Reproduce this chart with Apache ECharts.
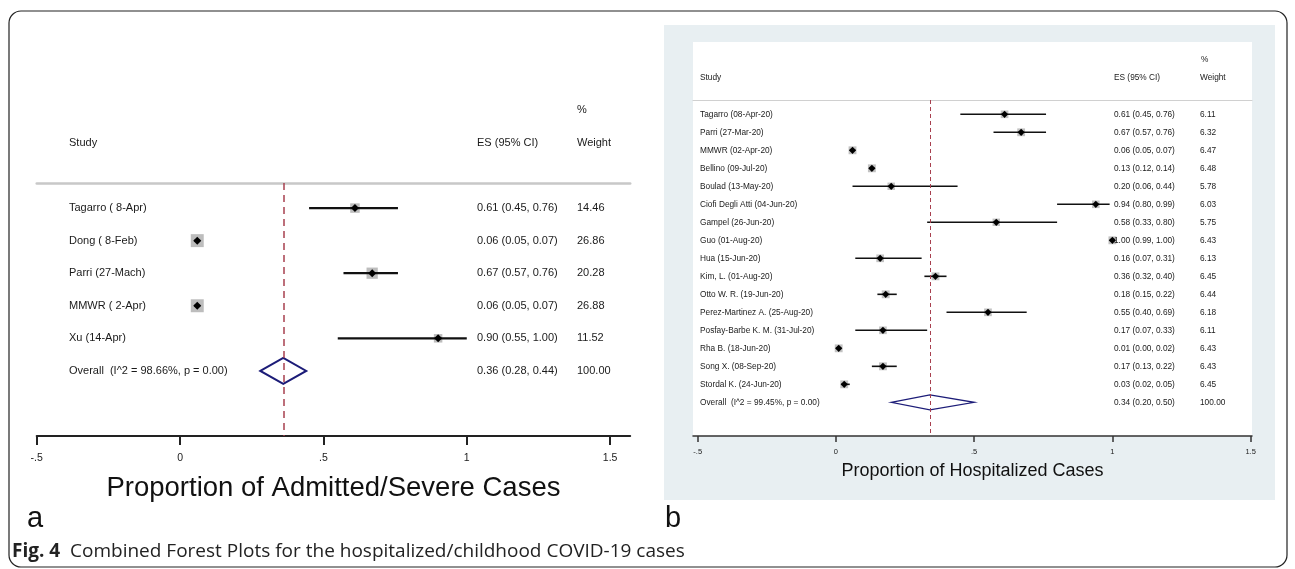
<!DOCTYPE html>
<html>
<head>
<meta charset="utf-8">
<script src="https://cdn.jsdelivr.net/npm/echarts@6.0.0/dist/echarts.min.js"></script>
<style>
html, body { margin: 0; padding: 0; background: #fff; }
#forest-chart-box { width: 1295px; height: 569px; }
</style>
</head>
<body>
<div id="forest-chart-box"></div>
<script>
// panel a: admitted / severe cases
var studiesA = ['Tagarro ( 8-Apr)', 'Dong ( 8-Feb)', 'Parri (27-Mach)', 'MMWR ( 2-Apr)', 'Xu (14-Apr)'];
var esA = [0.61, 0.06, 0.67, 0.06, 0.90];
var lowA = [0.45, 0.05, 0.57, 0.05, 0.55];
var highA = [0.76, 0.07, 0.76, 0.07, 1.00];
var weightA = [14.46, 26.86, 20.28, 26.88, 11.52];
var overallLabelA = 'Overall  (I^2 = 98.66%, p = 0.00)';
var overallA = [0.36, 0.28, 0.44, 100.00];

// panel b: hospitalized cases
var studiesB = ['Tagarro (08-Apr-20)', 'Parri (27-Mar-20)', 'MMWR (02-Apr-20)', 'Bellino (09-Jul-20)',
    'Boulad (13-May-20)', 'Ciofi Degli Atti (04-Jun-20)', 'Gampel (26-Jun-20)', 'Guo (01-Aug-20)',
    'Hua (15-Jun-20)', 'Kim, L. (01-Aug-20)', 'Otto W. R. (19-Jun-20)', 'Perez-Martinez A. (25-Aug-20)',
    'Posfay-Barbe K. M. (31-Jul-20)', 'Rha B. (18-Jun-20)', 'Song X. (08-Sep-20)', 'Stordal K. (24-Jun-20)'];
var esB = [0.61, 0.67, 0.06, 0.13, 0.20, 0.94, 0.58, 1.00, 0.16, 0.36, 0.18, 0.55, 0.17, 0.01, 0.17, 0.03];
var lowB = [0.45, 0.57, 0.05, 0.12, 0.06, 0.80, 0.33, 0.99, 0.07, 0.32, 0.15, 0.40, 0.07, 0.00, 0.13, 0.02];
var highB = [0.76, 0.76, 0.07, 0.14, 0.44, 0.99, 0.80, 1.00, 0.31, 0.40, 0.22, 0.69, 0.33, 0.02, 0.22, 0.05];
var weightB = [6.11, 6.32, 6.47, 6.48, 5.78, 6.03, 5.75, 6.43, 6.13, 6.45, 6.44, 6.18, 6.11, 6.43, 6.43, 6.45];
var overallLabelB = 'Overall  (I^2 = 99.45%, p = 0.00)';
var overallB = [0.34, 0.20, 0.50, 100.00];

var tickValues = [-0.5, 0, 0.5, 1, 1.5];
var tickLabels = ['-.5', '0', '.5', '1', '1.5'];

var FONT = '"Liberation Sans", Arial, sans-serif';
var TXT = '#1a1a1a';

function fmtES(es, lo, hi) {
    return es.toFixed(2) + ' (' + lo.toFixed(2) + ', ' + hi.toFixed(2) + ')';
}

function buildRows(names, es, lo, hi, w) {
    var rows = [];
    for (var i = 0; i < names.length; i++) {
        rows.push([i, es[i], lo[i], hi[i], w[i]]);
    }
    return rows;
}

function studyRenderer(cfg) {
    return function (params, api) {
        var i = api.value(0);
        var p = api.coord([api.value(1), i]);
        var pl = api.coord([api.value(2), i]);
        var ph = api.coord([api.value(3), i]);
        var s = cfg.boxK * Math.sqrt(api.value(4));
        var d = cfg.dot;
        var font = cfg.fontSize + 'px ' + FONT;
        return {
            type: 'group',
            children: [{
                type: 'rect',
                shape: { x: p[0] - s / 2, y: p[1] - s / 2, width: s, height: s },
                style: { fill: cfg.box }
            }, {
                type: 'line',
                shape: { x1: pl[0], y1: pl[1], x2: ph[0], y2: ph[1] },
                style: { stroke: '#111', lineWidth: cfg.lw }
            }, {
                type: 'polygon',
                shape: { points: [[p[0], p[1] - d], [p[0] + d, p[1]], [p[0], p[1] + d], [p[0] - d, p[1]]] },
                style: { fill: '#000' }
            }, {
                type: 'text',
                style: { x: cfg.colStudy, y: p[1], text: cfg.names[i], font: font, fill: TXT, verticalAlign: 'middle' }
            }, {
                type: 'text',
                style: { x: cfg.colES, y: p[1], text: fmtES(api.value(1), api.value(2), api.value(3)), font: font, fill: TXT, verticalAlign: 'middle' }
            }, {
                type: 'text',
                style: { x: cfg.colW, y: p[1], text: api.value(4).toFixed(2), font: font, fill: TXT, verticalAlign: 'middle' }
            }]
        };
    };
}

function overallRenderer(cfg) {
    return function (params, api) {
        var i = api.value(0);
        var p = api.coord([api.value(1), i]);
        var pl = api.coord([api.value(2), i]);
        var ph = api.coord([api.value(3), i]);
        var h = cfg.half;
        var font = cfg.fontSize + 'px ' + FONT;
        return {
            type: 'group',
            children: [{
                type: 'polygon',
                shape: { points: [[pl[0], p[1]], [p[0], p[1] - h], [ph[0], p[1]], [p[0], p[1] + h]] },
                style: { fill: 'none', stroke: '#1c1c78', lineWidth: cfg.lw }
            }, {
                type: 'text',
                style: { x: cfg.colStudy, y: p[1], text: cfg.label, font: font, fill: TXT, verticalAlign: 'middle' }
            }, {
                type: 'text',
                style: { x: cfg.colES, y: p[1], text: fmtES(api.value(1), api.value(2), api.value(3)), font: font, fill: TXT, verticalAlign: 'middle' }
            }, {
                type: 'text',
                style: { x: cfg.colW, y: p[1], text: api.value(4).toFixed(2), font: font, fill: TXT, verticalAlign: 'middle' }
            }]
        };
    };
}

function headerText(x, y, text, size) {
    return {
        type: 'text', z: 5,
        style: { x: x, y: y, text: text, font: size + 'px ' + FONT, fill: TXT, verticalAlign: 'middle' }
    };
}

var cfgA = { names: studiesA, boxK: 2.5, dot: 4, lw: 2.2, box: '#bdbdbd', fontSize: 11, colStudy: 69, colES: 477, colW: 577 };
var cfgB = { names: studiesB, boxK: 3.1, dot: 3.6, lw: 1.6, box: '#c2c2c2', fontSize: 8.3, colStudy: 700, colES: 1114, colW: 1200 };

var option = {
    animation: false,
    backgroundColor: '#fff',
    graphic: [
        { type: 'rect', z: -20, shape: { x: 9, y: 11, width: 1278, height: 556, r: 12 }, style: { fill: 'none', stroke: '#222', lineWidth: 1.2 } },
        { type: 'rect', z: -20, shape: { x: 664, y: 25, width: 611, height: 475 }, style: { fill: '#e8eff2' } },
        { type: 'rect', z: -19, shape: { x: 693, y: 42, width: 559, height: 394 }, style: { fill: '#fff' } },
        headerText(577, 110, '%', 11),
        headerText(69, 143, 'Study', 11),
        headerText(477, 143, 'ES (95% CI)', 11),
        headerText(577, 143, 'Weight', 11),
        headerText(1201, 60, '%', 8.3),
        headerText(700, 78, 'Study', 8.3),
        headerText(1114, 78, 'ES (95% CI)', 8.3),
        headerText(1200, 78, 'Weight', 8.3),
        { type: 'text', z: 5, style: { x: 27, y: 519, text: 'a', font: '29px ' + FONT, fill: '#111', verticalAlign: 'middle' } },
        { type: 'text', z: 5, style: { x: 665, y: 519, text: 'b', font: '29px ' + FONT, fill: '#111', verticalAlign: 'middle' } },
        {
            type: 'text', z: 5,
            style: {
                x: 12, y: 552, verticalAlign: 'middle',
                text: '{b|Fig. 4}  Combined Forest Plots for the hospitalized/childhood COVID-19 cases',
                font: '19px "Open Sans", sans-serif', fill: '#222',
                rich: { b: { fontWeight: 'bold', fontSize: 19, fontFamily: '"Open Sans", sans-serif', fill: '#222' } }
            }
        }
    ],
    grid: [
        { left: 36.7, top: 183, width: 593.5, height: 253 },
        { left: 693, top: 100, width: 559, height: 336 }
    ],
    xAxis: [{
        gridIndex: 0, type: 'value', position: 'bottom', min: -0.5, max: 1.57,
        axisLine: { onZero: false, lineStyle: { color: '#222', width: 2 } },
        axisTick: { customValues: tickValues, length: 9, lineStyle: { color: '#222', width: 2 } },
        axisLabel: {
            customValues: tickValues, margin: 17, color: TXT, fontSize: 10.5, fontFamily: FONT,
            formatter: function (v) { return tickLabels[tickValues.indexOf(v)]; }
        },
        splitLine: { show: false },
        name: 'Proportion of Admitted/Severe Cases', nameLocation: 'middle', nameGap: 38,
        nameTextStyle: { fontSize: 27.5, fontFamily: FONT, color: '#111' }
    }, {
        gridIndex: 0, type: 'value', position: 'top', min: -0.5, max: 1.57,
        axisLine: { onZero: false, lineStyle: { color: '#c8c8c8', width: 2.5 } },
        axisTick: { show: false }, axisLabel: { show: false }, splitLine: { show: false }
    }, {
        gridIndex: 1, type: 'value', position: 'bottom', min: -0.517, max: 1.505,
        axisLine: { onZero: false, lineStyle: { color: '#333', width: 1.5 } },
        axisTick: { customValues: tickValues, length: 6, lineStyle: { color: '#333', width: 1.5 } },
        axisLabel: {
            customValues: tickValues, margin: 12, color: TXT, fontSize: 7.5, fontFamily: FONT,
            formatter: function (v) { return tickLabels[tickValues.indexOf(v)]; }
        },
        splitLine: { show: false },
        name: 'Proportion of Hospitalized Cases', nameLocation: 'middle', nameGap: 26,
        nameTextStyle: { fontSize: 18, fontFamily: FONT, color: '#111' }
    }, {
        gridIndex: 1, type: 'value', position: 'top', min: -0.517, max: 1.505,
        axisLine: { onZero: false, lineStyle: { color: '#d0d0d0', width: 1.2 } },
        axisTick: { show: false }, axisLabel: { show: false }, splitLine: { show: false }
    }],
    yAxis: [
        { gridIndex: 0, type: 'value', inverse: true, min: -0.77, max: 7.0, show: false },
        { gridIndex: 1, type: 'value', inverse: true, min: -0.794, max: 17.87, show: false }
    ],
    series: [{
        type: 'custom', xAxisIndex: 0, yAxisIndex: 0,
        renderItem: studyRenderer(cfgA),
        data: buildRows(studiesA, esA, lowA, highA, weightA)
    }, {
        type: 'custom', xAxisIndex: 0, yAxisIndex: 0,
        renderItem: overallRenderer({ half: 13, lw: 2, fontSize: 11, colStudy: 69, colES: 477, colW: 577, label: overallLabelA }),
        data: [[studiesA.length].concat(overallA)],
        markLine: {
            silent: true, symbol: 'none', label: { show: false },
            lineStyle: { color: '#a8404f', type: [7, 5], width: 1.5 },
            data: [{ xAxis: overallA[0] }]
        }
    }, {
        type: 'custom', xAxisIndex: 2, yAxisIndex: 1,
        renderItem: studyRenderer(cfgB),
        data: buildRows(studiesB, esB, lowB, highB, weightB)
    }, {
        type: 'custom', xAxisIndex: 2, yAxisIndex: 1,
        renderItem: overallRenderer({ half: 7.5, lw: 1.3, fontSize: 8.3, colStudy: 700, colES: 1114, colW: 1200, label: overallLabelB }),
        data: [[studiesB.length].concat(overallB)],
        markLine: {
            silent: true, symbol: 'none', label: { show: false },
            lineStyle: { color: '#a8404f', type: [4, 3], width: 1 },
            data: [{ xAxis: overallB[0] }]
        }
    }]
};

var myChart = echarts.init(document.getElementById('forest-chart-box'));
myChart.setOption(option);
</script>
</body>
</html>
